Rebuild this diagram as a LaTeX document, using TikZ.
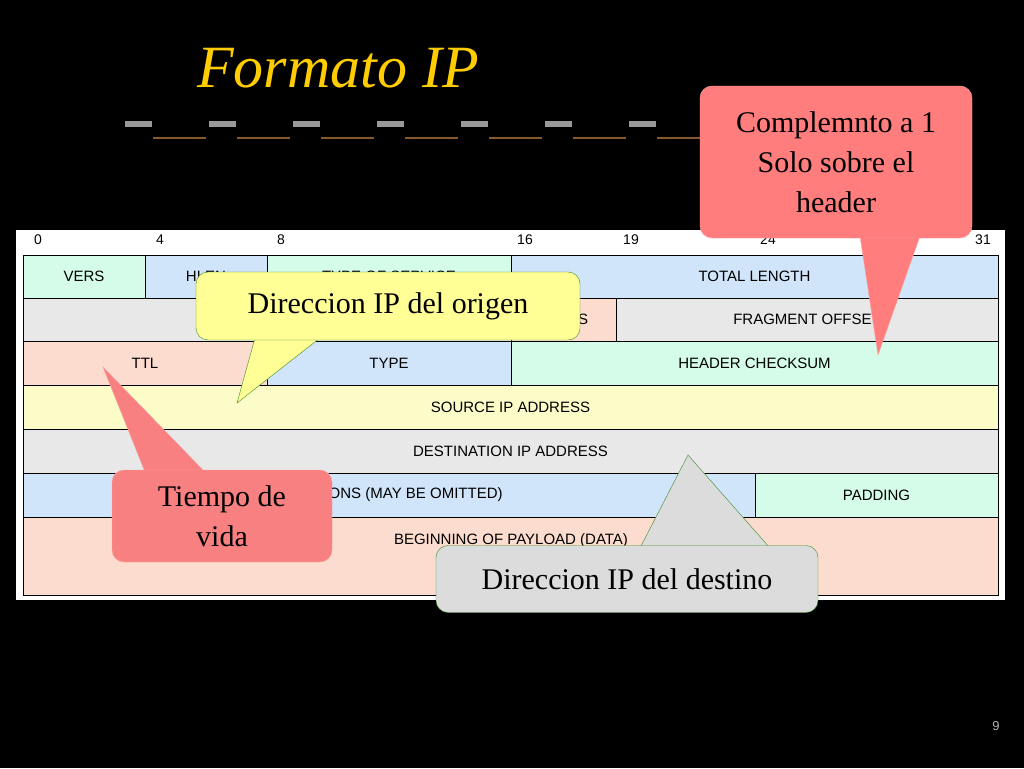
\documentclass[tikz,border=0pt]{standalone}
\usepackage{fontspec}
\setmainfont{Liberation Serif}
\newfontfamily\tabfont{Liberation Sans}
\usetikzlibrary{positioning,calc}
\definecolor{ipgold}{RGB}{255,204,0}
\definecolor{ipmint}{RGB}{212,252,232}
\definecolor{ipblue}{RGB}{208,228,250}
\definecolor{ipgray}{RGB}{232,232,232}
\definecolor{ippeach}{RGB}{252,220,206}
\definecolor{ipyellow}{RGB}{252,252,200}
\definecolor{ippink}{RGB}{255,125,125}
\definecolor{ipsalmon}{RGB}{248,128,128}
\definecolor{ipnote}{RGB}{255,255,150}
\definecolor{ipnotegray}{RGB}{220,220,220}
\definecolor{ipedge}{RGB}{60,140,40}
\newcommand{\ipfield}[6]{% name, x1, y1, x2, y2, colour
    \draw[field, fill=#6] (#2,#3) rectangle (#4,#5);
    \coordinate (#1) at ($(#2,#3)!0.5!(#4,#5)$);}

\begin{document}
\begin{tikzpicture}[x=1pt, y=-1pt,
    field/.style={draw=black, thick},
    fieldtext/.style={font=\tabfont\fontsize{15}{15}\selectfont},
    bitnum/.style={font=\tabfont\fontsize{14}{14}\selectfont},
    callout/.style={rounded corners=12pt, align=center, inner sep=0pt,
        font=\fontsize{30}{40}\selectfont}
]
    \useasboundingbox (0,0) rectangle (1024,768);
    \fill[black] (0,0) rectangle (1024,768);

    % Title and its rule
    \node[text=ipgold, font=\itshape\fontsize{60}{60}\selectfont] (title) at (338,68) {Formato IP};
    \foreach \i in {0,...,6} {
        \fill[gray!80] ({125+\i*84},121) rectangle ({152+\i*84},127);
        \fill[brown!70!black] ({153+\i*84},137) rectangle ({206+\i*84},139);
    }

    % Header table
    \fill[white] (16,230) rectangle (1005,600);
    \foreach \b/\x in {0/38,4/160,8/281,16/525,19/631,24/768,31/983}
        \node[bitnum] (bit\b) at (\x,240) {\b};

    \ipfield{vers}{23}{255}{145}{298}{ipmint}
    \ipfield{hlen}{145}{255}{267}{298}{ipblue}
    \ipfield{tos}{267}{255}{511}{298}{ipmint}
    \ipfield{tlen}{511}{255}{998}{298}{ipblue}
    \ipfield{ident}{23}{298}{511}{341}{ipgray}
    \ipfield{flags}{511}{298}{616}{341}{ippeach}
    \ipfield{frag}{616}{298}{998}{341}{ipgray}
    \ipfield{ttl}{23}{341}{267}{385}{ippeach}
    \ipfield{type}{267}{341}{511}{385}{ipblue}
    \ipfield{csum}{511}{341}{998}{385}{ipmint}
    \ipfield{src}{23}{385}{998}{429}{ipyellow}
    \ipfield{dst}{23}{429}{998}{473}{ipgray}
    \ipfield{opts}{23}{473}{755}{517}{ipblue}
    \ipfield{pad}{755}{473}{998}{517}{ipmint}
    \ipfield{data}{23}{517}{998}{595}{ippeach}

    \node[fieldtext] at (vers) {VERS};
    \node[fieldtext] at (hlen) {HLEN};
    \node[fieldtext] at (tos) {TYPE OF SERVICE};
    \node[fieldtext] at (tlen) {TOTAL LENGTH};
    \node[fieldtext] at (ident) {IDENTIFICATION};
    \node[fieldtext] at (flags) {FLAGS};
    \node[fieldtext] at (frag) {FRAGMENT OFFSET};
    \node[fieldtext] at (ttl) {TTL};
    \node[fieldtext] at (type) {TYPE};
    \node[fieldtext] at (csum) {HEADER CHECKSUM};
    \node[fieldtext] at (src) {SOURCE IP ADDRESS};
    \node[fieldtext] at (dst) {DESTINATION IP ADDRESS};
    \node[fieldtext] at (opts) {IP OPTIONS (MAY BE OMITTED)};
    \node[fieldtext] at (pad) {PADDING};
    \node[fieldtext] at (511,541) {BEGINNING OF PAYLOAD (DATA)};

    % Callouts
    \coordinate (csumtip) at (878,355);
    \coordinate (srctip) at (237,403);
    \coordinate (ttltip) at (103,367);
    \coordinate (dsttip) at (688,455);

    \filldraw[fill=ippink, draw=ippink!70!white] (860,236) -- (csumtip) -- (920,236) -- cycle;
    \node[callout, fill=ippink, draw=ippink!70!white, minimum width=272pt, minimum height=152pt]
        (cmpl) at (836,162) {Complemnto a 1\\Solo sobre el\\header};

    \filldraw[fill=ipnote, draw=ipedge] (255,338) -- (srctip) -- (320,338) -- cycle;
    \node[callout, fill=ipnote, draw=ipedge, minimum width=384pt, minimum height=68pt]
        (orig) at (388,306) {Direccion IP del origen};

    \filldraw[fill=ipsalmon, draw=ipsalmon!70!white] (145,472) -- (ttltip) -- (205,472) -- cycle;
    \node[callout, fill=ipsalmon, draw=ipsalmon!70!white, minimum width=220pt, minimum height=92pt]
        (life) at (222,516) {Tiempo de\\vida};

    \filldraw[fill=ipnotegray, draw=ipedge] (640,548) -- (dsttip) -- (770,548) -- cycle;
    \node[callout, fill=ipnotegray, draw=ipedge, minimum width=382pt, minimum height=67pt]
        (dest) at (627,579) {Direccion IP del destino};

    % Slide number
    \node[text=gray!60, font=\tabfont\fontsize{13}{13}\selectfont] (page) at (996,726) {9};
\end{tikzpicture}
\end{document}
